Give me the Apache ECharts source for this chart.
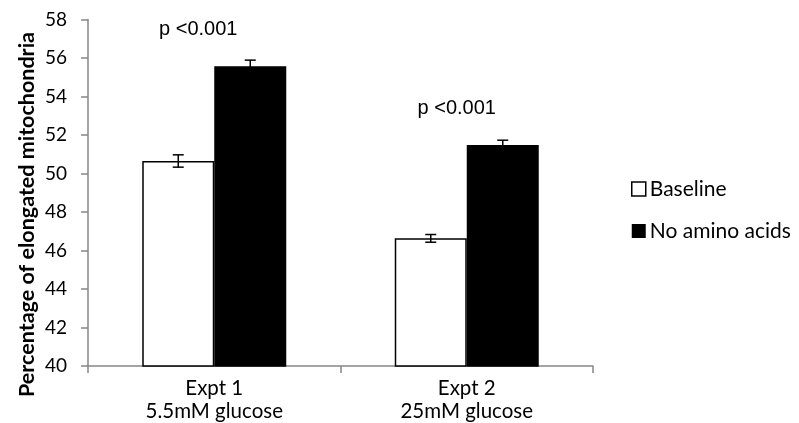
<!DOCTYPE html>
<html>
<head>
<meta charset="utf-8">
<script src="https://cdn.jsdelivr.net/npm/echarts@6/dist/echarts.min.js"></script>
<style>
html,body{margin:0;padding:0;background:#fff;}
#chart{width:799px;height:423px;}
</style>
</head>
<body>
<div id="chart"></div>
<script>
const categories = ['Expt 1\n5.5mM glucose', 'Expt 2\n25mM glucose'];
const seriesNames = ['Baseline', 'No amino acids'];
const baseline = [50.65, 46.63];
const baselineErr = [0.32, 0.2];
const noAmino = [55.57, 51.48];
const noAminoErr = [0.32, 0.25];
const pValues = ['p <0.001', 'p <0.001'];
const yTicks = { min: 40, max: 58, interval: 2 };
const yTitle = 'Percentage of elongated mitochondria';

const BAR_W = 72;
const FONT = 'Lato, "Open Sans", sans-serif';
const pLabelShift = [-52, -46];

const chart = echarts.init(document.getElementById('chart'), null, { renderer: 'canvas' });

function errSeries(vals, errs, side) {
  return {
    type: 'custom',
    silent: true,
    z: 10,
    data: vals.map((v, i) => [i, v, errs[i]]),
    renderItem: function (params, api) {
      const i = api.value(0), v = api.value(1), e = api.value(2);
      const c = api.coord([i, v]);
      const x = c[0] + side * BAR_W / 2;
      const yt = api.coord([i, v + e])[1];
      const yb = api.coord([i, v - e])[1];
      const cap = 5.5;
      const st = { stroke: '#000', lineWidth: 1.5 };
      return {
        type: 'group',
        children: [
          { type: 'line', shape: { x1: x, y1: yt, x2: x, y2: yb }, style: st },
          { type: 'line', shape: { x1: x - cap, y1: yt, x2: x + cap, y2: yt }, style: st },
          { type: 'line', shape: { x1: x - cap, y1: yb, x2: x + cap, y2: yb }, style: st }
        ]
      };
    }
  };
}

const option = {
  backgroundColor: '#fff',
  animation: false,
  grid: { left: 88, right: 206, top: 19.5, bottom: 55.5, containLabel: false },
  legend: {
    orient: 'vertical',
    left: 631,
    top: 178,
    padding: 0,
    itemGap: 20,
    itemWidth: 14,
    itemHeight: 14,
    icon: 'rect',
    textStyle: { fontFamily: FONT, fontSize: 21, lineHeight: 22, color: '#000', padding: [0, 0, 0, -1] },
    data: [
      { name: seriesNames[0], itemStyle: { color: '#fff', borderColor: '#000', borderWidth: 1.5 } },
      { name: seriesNames[1], itemStyle: { color: '#000', borderColor: '#000', borderWidth: 0 } }
    ]
  },
  xAxis: {
    type: 'category',
    data: categories,
    axisLine: { lineStyle: { color: '#868686', width: 1.5 } },
    axisTick: { show: true, length: 7, lineStyle: { color: '#868686', width: 1.5 } },
    axisLabel: { fontFamily: FONT, fontSize: 20.5, color: '#000', lineHeight: 23, margin: 11 }
  },
  yAxis: {
    type: 'value',
    min: yTicks.min,
    max: yTicks.max,
    interval: yTicks.interval,
    splitLine: { show: false },
    axisLine: { show: true, lineStyle: { color: '#868686', width: 1.5 } },
    axisTick: { show: true, length: 7, lineStyle: { color: '#868686', width: 1.5 } },
    axisLabel: { fontFamily: FONT, fontSize: 19, color: '#000', margin: 21 }
  },
  graphic: [{
    type: 'text',
    left: 16,
    top: 32,
    rotation: Math.PI / 2,
    style: {
      text: yTitle,
      fontFamily: FONT,
      fontWeight: 'bold',
      fontSize: 21.5,
      fill: '#000'
    }
  }],
  series: [
    {
      name: seriesNames[0],
      type: 'bar',
      barWidth: BAR_W,
      barGap: '0%',
      data: baseline,
      itemStyle: { color: '#fff', borderColor: '#000', borderWidth: 1.5 }
    },
    {
      name: seriesNames[1],
      type: 'bar',
      barWidth: BAR_W,
      barGap: '0%',
      data: noAmino.map((v, i) => ({ value: v, label: { offset: [pLabelShift[i], -22] } })),
      itemStyle: { color: '#000', borderColor: '#000', borderWidth: 1.5 },
      label: {
        show: true,
        position: 'top',
        formatter: p => pValues[p.dataIndex],
        fontFamily: '"Liberation Sans", Arial, sans-serif',
        fontSize: 20,
        color: '#000'
      }
    },
    errSeries(baseline, baselineErr, -1),
    errSeries(noAmino, noAminoErr, 1)
  ]
};
chart.setOption(option);
</script>
</body>
</html>
